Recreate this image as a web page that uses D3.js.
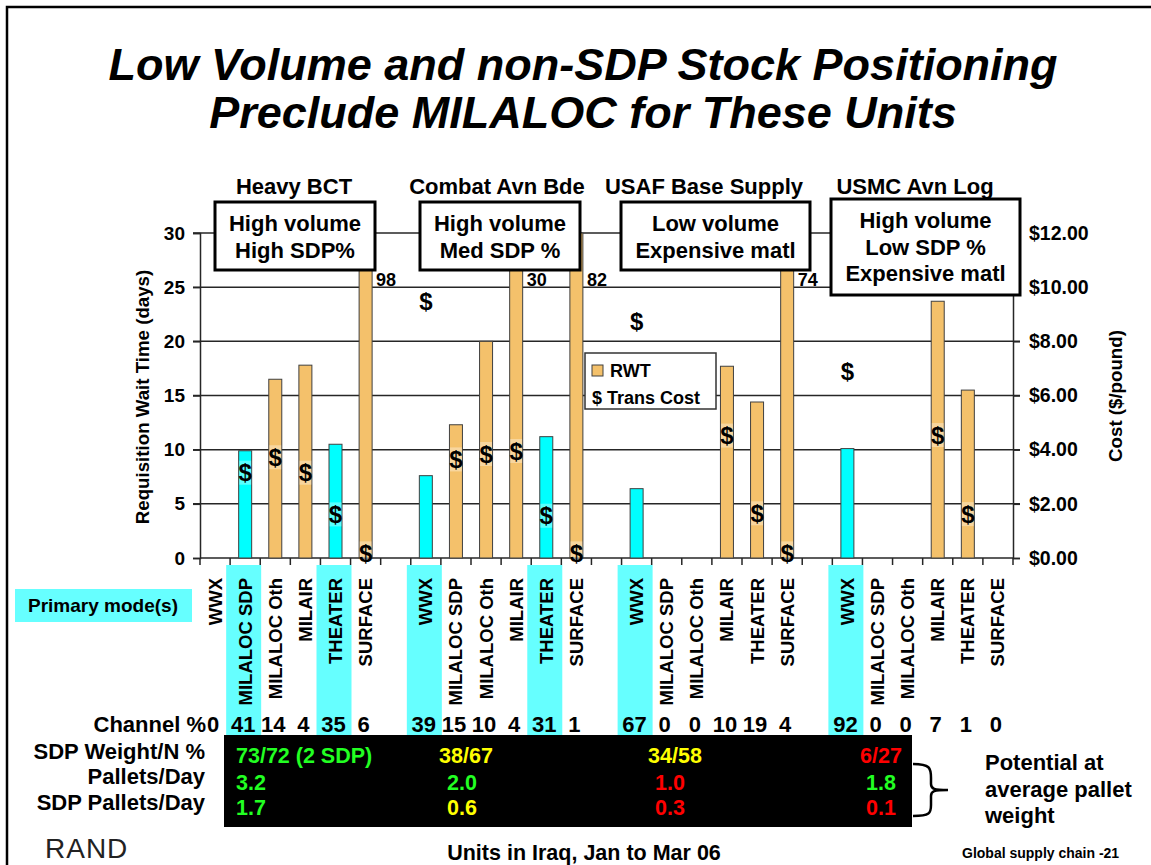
<!DOCTYPE html>
<html><head><meta charset="utf-8">
<script src="https://cdn.jsdelivr.net/npm/d3@7"></script>
<style>
body{margin:0;background:#fff}
svg{display:block;font-family:"Liberation Sans",Arial,Helvetica,sans-serif;font-weight:bold}
</style>
</head><body><svg id="chart" width="1151" height="865"></svg>
<script>
// ---------------- data ----------------
const units = ["Heavy BCT", "Combat Avn Bde", "USAF Base Supply", "USMC Avn Log"];
const modes = ["WWX", "MILALOC SDP", "MILALOC Oth", "MILAIR", "THEATER", "SURFACE"];
// Requisition wait time (days), per unit, per mode
const rwtDays = [
  [0, 9.9, 16.5, 17.8, 10.5, 98],
  [7.6, 12.3, 20.0, 30, 11.2, 82],
  [6.4, 0, 0, 17.7, 14.4, 74],
  [10.1, 0, 0, 23.7, 15.5, 0]
];
// Transportation cost ($/pound); null = none shown
const transCost = [
  [null, 3.15, 3.72, 3.15, 1.61, 0.17],
  [9.49, 3.64, 3.84, 3.95, 1.56, 0.17],
  [8.73, null, null, 4.52, 1.65, 0.17],
  [6.90, null, null, 4.54, 1.62, null]
];
// primary mode(s) flags
const primaryMode = [
  [0, 1, 0, 0, 1, 0],
  [1, 0, 0, 0, 1, 0],
  [1, 0, 0, 0, 0, 0],
  [1, 0, 0, 0, 0, 0]
];
const channelPct = [
  [0, 41, 14, 4, 35, 6],
  [39, 15, 10, 4, 31, 1],
  [67, 0, 0, 10, 19, 4],
  [92, 0, 0, 7, 1, 0]
];
const unitNotes = [
  ["High volume", "High SDP%"],
  ["High volume", "Med SDP %"],
  ["Low volume", "Expensive matl"],
  ["High volume", "Low SDP %", "Expensive matl"]
];
const rwtTicks = [0, 5, 10, 15, 20, 25, 30];
const costTicks = [0, 2, 4, 6, 8, 10, 12];
const tableRowLabels = ["SDP Weight/N %", "Pallets/Day", "SDP Pallets/Day"];
const sdpWeightN = ["73/72 (2 SDP)", "38/67", "34/58", "6/27"];
const palletsPerDay = ["3.2", "2.0", "1.0", "1.8"];
const sdpPalletsPerDay = ["1.7", "0.6", "0.3", "0.1"];
const sdpWeightRating = ["good", "fair", "fair", "poor"];
const palletsRating = ["good", "good", "poor", "good"];
const sdpPalletsRating = ["good", "fair", "poor", "poor"];
const titleLines = ["Low Volume and non-SDP Stock Positioning", "Preclude MILALOC for These Units"];
const potentialNote = ["Potential at", "average pallet", "weight"];

// ---------------- styles ----------------
const C = {cyan: "#00ffff", hl: "#66ffff", orange: "#f4c16b", outline: "#404040", grid: "#262626",
  good: "#22ff22", fair: "#ffff00", poor: "#ff0000"};
const svg = d3.select("#chart");
svg.append("rect").attr("width", 1151).attr("height", 865).attr("fill", "#fff");

// slide frame
svg.append("path").attr("d", "M7,865 V7 H1151").attr("fill", "none").attr("stroke", "#000").attr("stroke-width", 2.5);

// title
svg.append("g").selectAll("text").data(titleLines).join("text")
  .attr("x", 583).attr("y", (d, i) => 80 + i * 48)
  .attr("text-anchor", "middle").attr("font-size", 45).attr("font-style", "italic").text(d => d);

// ---------------- scales ----------------
const slots = [];
units.forEach((u, g) => {
  modes.forEach((m, i) => slots.push({key: g + "|" + i, g, i, mode: m,
    v: rwtDays[g][i], c: transCost[g][i], p: primaryMode[g][i], ch: channelPct[g][i]}));
  if (g < units.length - 1) slots.push({key: "gap" + g, gap: true});
});
const data = slots.filter(s => !s.gap);
const x = d3.scaleBand().domain(slots.map(s => s.key)).range([200, 1013]).padding(0);
const y = d3.scaleLinear().domain([0, 30]).range([558, 233]);
const yC = d3.scaleLinear().domain([0, 12]).range([558, 233]);
const bw = x.bandwidth();
const cx = d => x(d.key) + bw / 2;

// gridlines
svg.append("g").selectAll("line").data(rwtTicks.filter(t => t > 0)).join("line")
  .attr("x1", 193).attr("x2", 1020).attr("y1", d => y(d)).attr("y2", d => y(d))
  .attr("stroke", C.grid).attr("stroke-width", 1.5);

// left axis
const gL = svg.append("g").attr("transform", "translate(200,0)")
  .call(d3.axisLeft(y).tickValues(rwtTicks).tickSize(7).tickPadding(8));
gL.select(".domain").attr("stroke", C.grid).attr("stroke-width", 1.5);
gL.selectAll(".tick line").attr("stroke", C.grid).attr("stroke-width", 1.5);
gL.selectAll(".tick text").attr("font-size", 19).attr("font-weight", "bold")
  .attr("font-family", "Liberation Sans, Arial, sans-serif").attr("fill", "#000");

// right axis
const gR = svg.append("g").attr("transform", "translate(1013,0)")
  .call(d3.axisRight(yC).tickValues(costTicks).tickSize(7).tickPadding(9).tickFormat(d => "$" + d.toFixed(2)));
gR.select(".domain").attr("stroke", C.grid).attr("stroke-width", 1.5);
gR.selectAll(".tick line").attr("stroke", C.grid).attr("stroke-width", 1.5);
gR.selectAll(".tick text").attr("font-size", 19.5).attr("font-weight", "bold")
  .attr("font-family", "Liberation Sans, Arial, sans-serif").attr("fill", "#000");

// bottom axis line + ticks at band boundaries
svg.append("line").attr("x1", 200).attr("x2", 1013).attr("y1", 558).attr("y2", 558)
  .attr("stroke", C.grid).attr("stroke-width", 1.5);
svg.append("g").selectAll("line").data(slots.map(s => x(s.key)).concat([1013])).join("line")
  .attr("x1", d => d).attr("x2", d => d).attr("y1", 558).attr("y2", 565)
  .attr("stroke", C.grid).attr("stroke-width", 1.5);

// axis titles
svg.append("text").attr("transform", "translate(149,397) rotate(-90)")
  .attr("text-anchor", "middle").attr("font-size", 18.7).text("Requisition Wait Time (days)");
svg.append("text").attr("transform", "translate(1122,396) rotate(-90)")
  .attr("text-anchor", "middle").attr("font-size", 18.7).text("Cost ($/pound)");

// bars (clipped at axis max)
const bwBar = 13;
svg.append("g").selectAll("rect").data(data.filter(d => d.v > 0)).join("rect")
  .attr("x", d => cx(d) - bwBar / 2).attr("width", bwBar)
  .attr("y", d => y(Math.min(d.v, 30))).attr("height", d => y(0) - y(Math.min(d.v, 30)))
  .attr("fill", d => d.p ? C.cyan : C.orange).attr("stroke", C.outline).attr("stroke-width", 1);

// off-scale values
svg.append("g").selectAll("text").data(data.filter(d => d.v >= 30)).join("text")
  .attr("x", d => cx(d) + bwBar / 2 + 4).attr("y", y(25.1))
  .attr("font-size", 18).text(d => d.v);

// trans cost markers
const cm = svg.append("g").selectAll("g").data(data.filter(d => d.c !== null)).join("g");
cm.append("rect").attr("x", d => cx(d) - 6).attr("width", 12)
  .attr("y", d => yC(d.c) - 12).attr("height", 24).attr("fill", "#fff").attr("opacity", 0.35);
cm.append("text").attr("x", d => cx(d)).attr("y", d => yC(d.c)).attr("dy", "0.36em")
  .attr("text-anchor", "middle").attr("font-size", 24).text("$");

// group titles
svg.append("g").selectAll("text").data(units).join("text")
  .attr("x", (d, g) => [294, 497, 704, 915][g]).attr("y", 194)
  .attr("text-anchor", "middle").attr("font-size", 22).text(d => d);

// note boxes
const boxes = [[215, 202, 160, 68], [420, 202, 160, 68], [621, 202, 189, 68], [831, 199, 189, 96]];
const nb = svg.append("g").selectAll("g").data(unitNotes).join("g");
nb.append("rect").attr("x", (d, g) => boxes[g][0]).attr("y", (d, g) => boxes[g][1])
  .attr("width", (d, g) => boxes[g][2]).attr("height", (d, g) => boxes[g][3])
  .attr("fill", "#fff").attr("stroke", "#000").attr("stroke-width", 3);
nb.each(function(lines, g) {
  d3.select(this).selectAll("text").data(lines).join("text")
    .attr("x", boxes[g][0] + boxes[g][2] / 2).attr("y", (d, i) => boxes[g][1] + 29 + i * 26.5)
    .attr("text-anchor", "middle").attr("font-size", 22).text(d => d);
});

// legend
const lg = svg.append("g");
lg.append("rect").attr("x", 585).attr("y", 353).attr("width", 131).attr("height", 56)
  .attr("fill", "#fff").attr("stroke", "#333").attr("stroke-width", 1.5);
lg.append("rect").attr("x", 592).attr("y", 365).attr("width", 11).attr("height", 11)
  .attr("fill", C.orange).attr("stroke", C.outline).attr("stroke-width", 1);
lg.append("text").attr("x", 610).attr("y", 377).attr("font-size", 18).text("RWT");
lg.append("text").attr("x", 592).attr("y", 404).attr("font-size", 18).text("$ Trans Cost");

// primary mode highlights (x labels + channel %)
svg.append("g").selectAll("rect").data(data.filter(d => d.p)).join("rect")
  .attr("x", d => cx(d) - 19).attr("width", 35).attr("y", 565).attr("height", 170)
  .attr("fill", C.hl);
svg.append("rect").attr("x", 15).attr("y", 589).attr("width", 177).attr("height", 33).attr("fill", C.hl);
svg.append("text").attr("x", 103).attr("y", 612).attr("text-anchor", "middle").attr("font-size", 19)
  .text("Primary mode(s)");

// x labels (rotated)
svg.append("g").selectAll("text").data(data).join("text")
  .attr("transform", d => `translate(${cx(d)},578) rotate(-90)`)
  .attr("dy", "0.35em").attr("text-anchor", "end").attr("font-size", 18.5).text(d => d.mode);

// channel %
svg.append("text").attr("x", 206).attr("y", 732).attr("text-anchor", "end").attr("font-size", 22).text("Channel %");
svg.append("g").selectAll("text").data(data).join("text")
  .attr("x", d => cx(d) - 2).attr("y", 732).attr("text-anchor", "middle").attr("font-size", 22)
  .text(d => d.ch);

// table
svg.append("rect").attr("x", 224).attr("y", 735).attr("width", 688).attr("height", 92).attr("fill", "#000");
svg.append("g").selectAll("text").data(tableRowLabels).join("text")
  .attr("x", 205).attr("y", (d, i) => [759, 784, 810][i]).attr("text-anchor", "end")
  .attr("font-size", 22).text(d => d);
const rows = [[sdpWeightN, sdpWeightRating], [palletsPerDay, palletsRating], [sdpPalletsPerDay, sdpPalletsRating]];
const colX = [[236, 466, 675, 881], [236, 462, 670, 881], [236, 462, 670, 881]];
const rowY = [763, 790, 815];
rows.forEach(([vals, rat], r) => {
  svg.append("g").selectAll("text").data(vals).join("text")
    .attr("x", (d, g) => colX[r][g]).attr("y", rowY[r])
    .attr("text-anchor", (d, g) => g === 0 ? "start" : "middle")
    .attr("font-size", 21.5).attr("fill", (d, g) => C[rat[g]]).text(d => d);
});

// brace + note
svg.append("path").attr("d", "M913,764 C930,764 931,768 931,778 L931,784 C931,789 934,790 948,790 C934,790 931,791 931,796 L931,805 C931,813 930,816 913,816")
  .attr("fill", "none").attr("stroke", "#000").attr("stroke-width", 2.5);
svg.append("g").selectAll("text").data(potentialNote).join("text")
  .attr("x", 985).attr("y", (d, i) => 770 + i * 26.5).attr("font-size", 22).text(d => d);

// footer
svg.append("text").attr("x", 45).attr("y", 858).attr("font-size", 28).attr("font-weight", "normal")
  .attr("fill", "#222").attr("letter-spacing", 1).text("RAND");
svg.append("text").attr("x", 584).attr("y", 860).attr("text-anchor", "middle").attr("font-size", 21.5)
  .text("Units in Iraq, Jan to Mar 06");
svg.append("text").attr("x", 962).attr("y", 858).attr("font-size", 14).text("Global supply chain -21");
</script></body></html>
